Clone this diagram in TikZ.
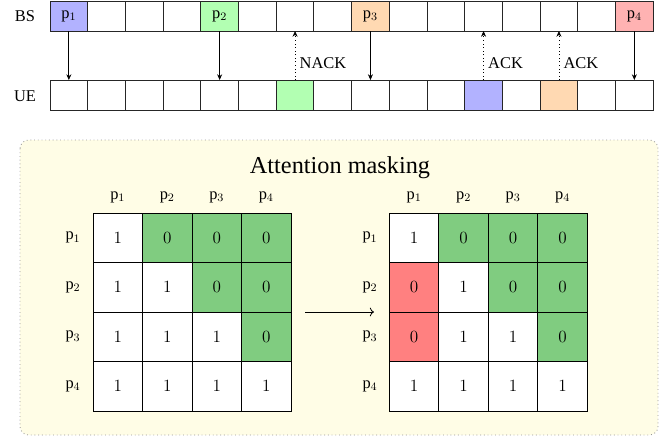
\documentclass[tikz,border=0pt]{standalone}
\usepackage{fontspec}
\setmainfont{Liberation Serif}
\usetikzlibrary{arrows.meta}
\definecolor{mgreen}{RGB}{128,204,128}
\definecolor{mred}{RGB}{255,128,128}
\definecolor{bgyellow}{RGB}{255,253,230}
\begin{document}
\begin{tikzpicture}[x=0.7pt,y=-0.7pt,
  every node/.style={font=\fontsize{11.5}{14}\selectfont},
  slot/.style={draw=black!85,line width=0.6pt,minimum width=26.39pt,minimum height=21pt,inner sep=0pt,outer sep=0pt},
  mcell/.style={draw=black,line width=0.6pt,minimum width=34.65pt,minimum height=34.65pt,inner sep=0pt,outer sep=0pt},
  lab/.style={inner sep=1pt},
  down/.style={-{Stealth[length=4pt,width=3.5pt]},line width=0.5pt},
  up/.style={-{Stealth[length=4pt,width=3.5pt]},line width=0.5pt,dotted}]
\useasboundingbox (0,0) rectangle (661,441);
% row labels
\node[lab] (bslab) at (25,16) {BS};
\node[lab] (uelab) at (25,96) {UE};
% BS and UE rows
\foreach \i in {0,...,15}{
  \node[slot] (bs\i) at ({50+37.7*(\i+0.5)},16) {};
  \node[slot] (ue\i) at ({50+37.7*(\i+0.5)},95) {};
}
\node[slot,fill=blue!30] at (bs0) {$\mathrm{p}_1$};
\node[slot,fill=green!30] at (bs4) {$\mathrm{p}_2$};
\node[slot,fill=orange!30] at (bs8) {$\mathrm{p}_3$};
\node[slot,fill=red!30] at (bs15) {$\mathrm{p}_4$};
\node[slot,fill=green!30] at (ue6) {};
\node[slot,fill=blue!30] at (ue11) {};
\node[slot,fill=orange!30] at (ue13) {};
% arrows
\foreach \i in {0,4,8,15}{ \draw[down] (bs\i.south) -- (ue\i.north); }
\draw[up] (ue6.north) -- node[right,pos=0.35,inner sep=3pt] (nack) {NACK} (bs6.south);
\draw[up] (ue11.north) -- node[right,pos=0.35,inner sep=3pt] (ack1) {ACK} (bs11.south);
\draw[up] (ue13.north) -- node[right,pos=0.35,inner sep=3pt] (ack2) {ACK} (bs13.south);
% background box
\draw[gray!80,dotted,line width=0.6pt,fill=bgyellow,rounded corners=6pt] (20,140) rectangle (658,435);
\node[font=\fontsize{17}{20}\selectfont] (title) at (340,168) {Attention masking};
% matrices
\def\cw{49.5}
\foreach \r/\vals in {1/{1,0,0,0},2/{1,1,0,0},3/{1,1,1,0},4/{1,1,1,1}}{
  \foreach \v [count=\c] in \vals {
    \ifnum\v=0
      \node[mcell,fill=mgreen] (L\r\c) at ({93+\cw*(\c-0.5)},{213+\cw*(\r-0.5)}) {$0$};
    \else
      \node[mcell,fill=white] (L\r\c) at ({93+\cw*(\c-0.5)},{213+\cw*(\r-0.5)}) {$1$};
    \fi
  }
}
\foreach \r/\vals in {1/{1,0,0,0},2/{2,1,0,0},3/{2,1,1,0},4/{1,1,1,1}}{
  \foreach \v [count=\c] in \vals {
    \ifnum\v=0
      \node[mcell,fill=mgreen] (R\r\c) at ({389.3+\cw*(\c-0.5)},{213+\cw*(\r-0.5)}) {$0$};
    \else\ifnum\v=2
      \node[mcell,fill=mred] (R\r\c) at ({389.3+\cw*(\c-0.5)},{213+\cw*(\r-0.5)}) {$0$};
    \else
      \node[mcell,fill=white] (R\r\c) at ({389.3+\cw*(\c-0.5)},{213+\cw*(\r-0.5)}) {$1$};
    \fi\fi
  }
}
% labels
\foreach \k in {1,...,4}{
  \node[lab] (Lc\k) at ({93+\cw*(\k-0.5)},197) {$\mathrm{p}_\k$};
  \node[lab] (Lr\k) at (73,{213+\cw*(\k-0.5)}) {$\mathrm{p}_\k$};
  \node[lab] (Rc\k) at ({389.3+\cw*(\k-0.5)},197) {$\mathrm{p}_\k$};
  \node[lab] (Rr\k) at (370,{213+\cw*(\k-0.5)}) {$\mathrm{p}_\k$};
}
\coordinate (a1) at (305,312);
\coordinate (a2) at (374,312);
\draw[->,line width=0.6pt] (a1) -- (a2);
\end{tikzpicture}
\end{document}
